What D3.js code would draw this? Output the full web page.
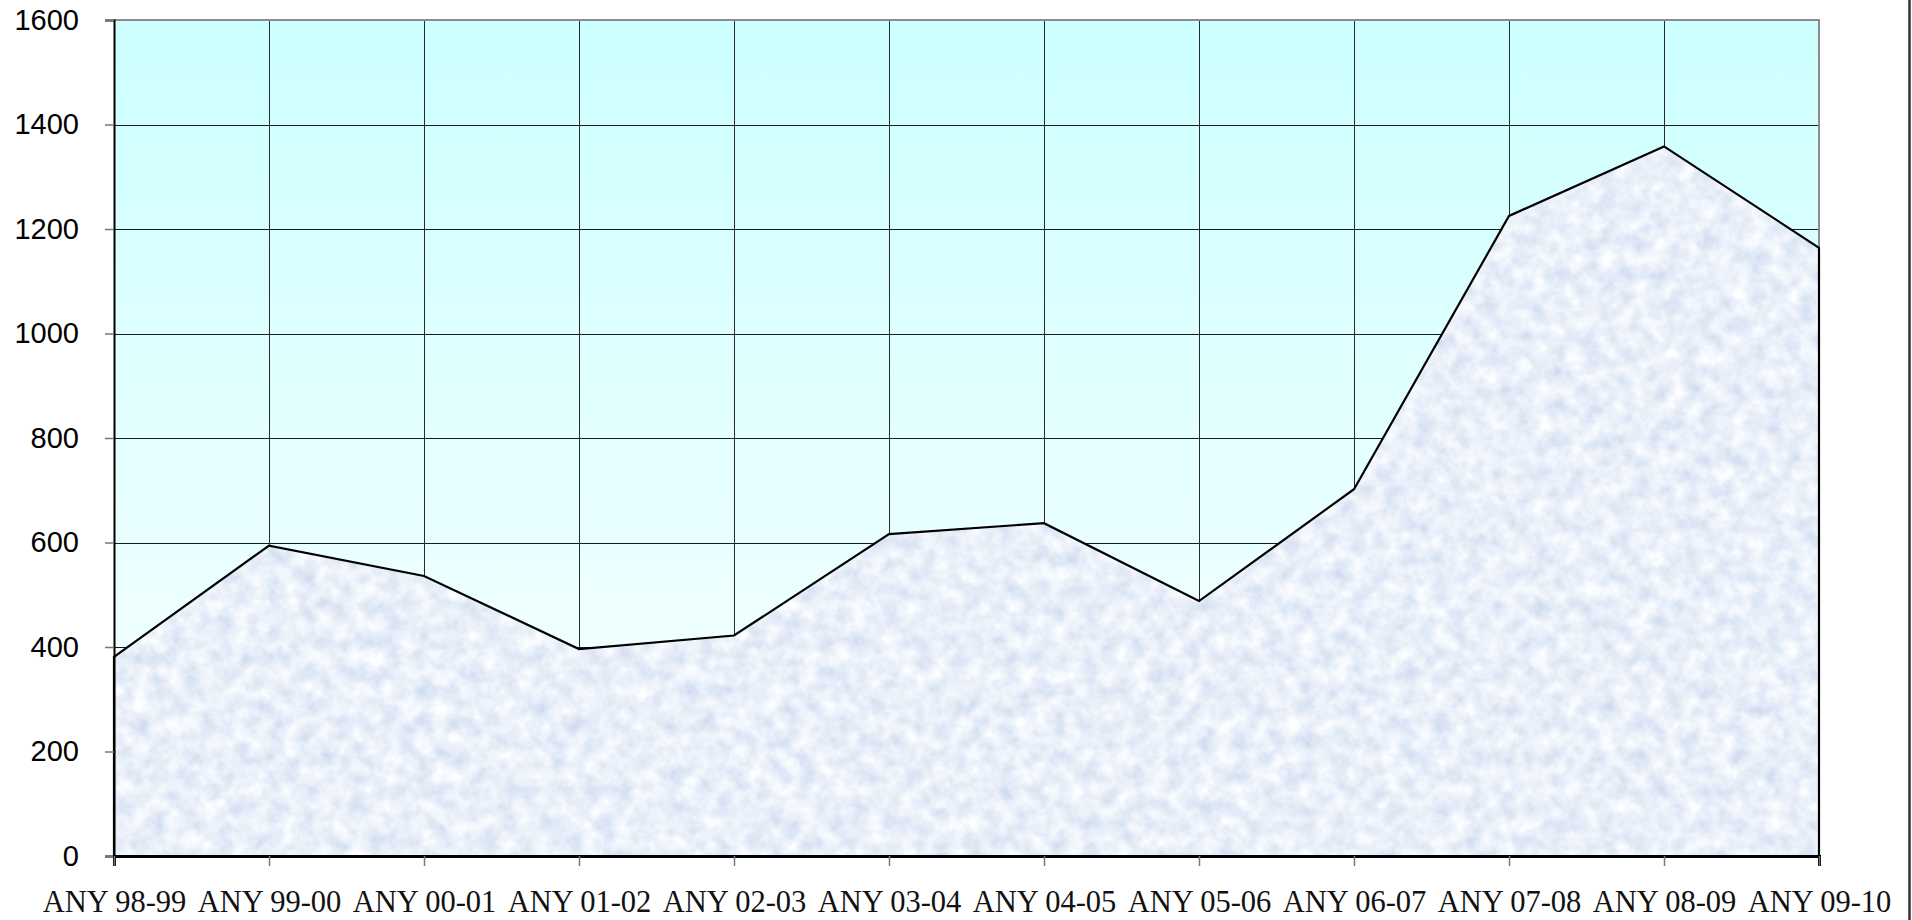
<!DOCTYPE html>
<html>
<head>
<meta charset="utf-8">
<script src="https://cdn.jsdelivr.net/npm/d3@7"></script>
<style>
  html, body { margin: 0; padding: 0; background: #ffffff; }
  svg { display: block; }
</style>
</head>
<body>
<svg id="chart_svg" width="1912" height="920"></svg>
<script>
// data
var categories = ["ANY 98-99", "ANY 99-00", "ANY 00-01", "ANY 01-02", "ANY 02-03", "ANY 03-04",
                  "ANY 04-05", "ANY 05-06", "ANY 06-07", "ANY 07-08", "ANY 08-09", "ANY 09-10"];
var values = [381, 594, 536, 396, 422, 616, 637, 488, 702, 1225, 1358, 1164];
var yTicks = [0, 200, 400, 600, 800, 1000, 1200, 1400, 1600];

var svg = d3.select("#chart_svg");

var plot_left = 114, plot_right = 1819, plot_top = 20, plot_bottom = 856;

var x = d3.scalePoint().domain(categories).range([plot_left, plot_right]);
var y = d3.scaleLinear().domain([0, 1600]).range([plot_bottom, plot_top]);

var defs = svg.append("defs");

// plot background: cyan fading to white
var grad = defs.append("linearGradient").attr("id", "bg_grad")
  .attr("x1", 0).attr("y1", 0).attr("x2", 0).attr("y2", 1);
grad.append("stop").attr("offset", "0%").attr("stop-color", "#ccffff");
grad.append("stop").attr("offset", "100%").attr("stop-color", "#fbffff");

// marble-ish texture for the area
var filt = defs.append("filter").attr("id", "marble")
  .attr("x", 0).attr("y", 0).attr("width", 1).attr("height", 1);
filt.append("feTurbulence").attr("type", "fractalNoise")
  .attr("baseFrequency", 0.06).attr("numOctaves", 4).attr("seed", 7).attr("result", "noise");
filt.append("feColorMatrix").attr("in", "noise").attr("type", "matrix")
  .attr("values", "0.5 0 0 0 0.57  0.4 0 0 0 0.67  0.2 0 0 0 0.85  0 0 0 0 1")
  .attr("result", "tint");
filt.append("feComposite").attr("in", "tint").attr("in2", "SourceGraphic").attr("operator", "in");

svg.append("rect")
  .attr("x", plot_left).attr("y", plot_top)
  .attr("width", plot_right - plot_left).attr("height", plot_bottom - plot_top)
  .style("fill", "url(#bg_grad)");

// grid
var grid = svg.append("g");
grid.selectAll("line.h").data(yTicks.slice(1, -1)).enter().append("line")
  .attr("x1", plot_left).attr("x2", plot_right)
  .attr("y1", function(d) { return Math.round(y(d)) + 0.5; })
  .attr("y2", function(d) { return Math.round(y(d)) + 0.5; })
  .style("stroke", "#1a1a1a").style("stroke-width", 1);
grid.selectAll("line.v").data(categories.slice(1, -1)).enter().append("line")
  .attr("x1", function(d) { return Math.round(x(d)) + 0.5; })
  .attr("x2", function(d) { return Math.round(x(d)) + 0.5; })
  .attr("y1", plot_top).attr("y2", plot_bottom)
  .style("stroke", "#2a2a2a").style("stroke-width", 1);

// plot frame (top/right gray)
svg.append("path")
  .attr("d", "M" + plot_left + "," + plot_top + "H" + plot_right + "V" + plot_bottom)
  .style("fill", "none").style("stroke", "#8c8c8c").style("stroke-width", 2);

// area
var area = d3.area()
  .x(function(d, i) { return x(categories[i]); })
  .y0(y(0))
  .y1(function(d) { return y(d); });

svg.append("path").datum(values)
  .attr("d", area)
  .style("fill", "#dde8f6")
  .attr("filter", "url(#marble)");

svg.append("path").datum(values)
  .attr("d", area)
  .style("fill", "none")
  .style("stroke", "#000")
  .style("stroke-width", 2.2)
  .style("stroke-linejoin", "miter");

// y axis
var yAxis = svg.append("g")
  .attr("transform", "translate(" + plot_left + ",0)")
  .call(d3.axisLeft(y).tickValues(yTicks).tickFormat(d3.format("d")).tickSize(9).tickPadding(26));
yAxis.select(".domain").style("stroke", "#000").style("stroke-width", 2);
yAxis.selectAll(".tick line").style("stroke", "#777").style("stroke-width", 1.5);
yAxis.selectAll("text")
  .style("font-family", "'Liberation Sans', Arial, sans-serif")
  .style("font-size", "29px").style("fill", "#000");

// x axis
var xAxis = svg.append("g")
  .attr("transform", "translate(0," + plot_bottom + ")")
  .call(d3.axisBottom(x).tickSize(10).tickPadding(24));
xAxis.select(".domain").style("stroke", "#000").style("stroke-width", 3);
xAxis.selectAll(".tick line").style("stroke", "#777").style("stroke-width", 1.5);
xAxis.selectAll("text")
  .style("font-family", "'Liberation Serif', 'Times New Roman', serif")
  .style("font-size", "30.5px").style("fill", "#111");

// chart area right border
svg.append("line")
  .attr("x1", 1909.5).attr("x2", 1909.5).attr("y1", 0).attr("y2", 920)
  .style("stroke", "#333").style("stroke-width", 2.5);
</script>
</body>
</html>
